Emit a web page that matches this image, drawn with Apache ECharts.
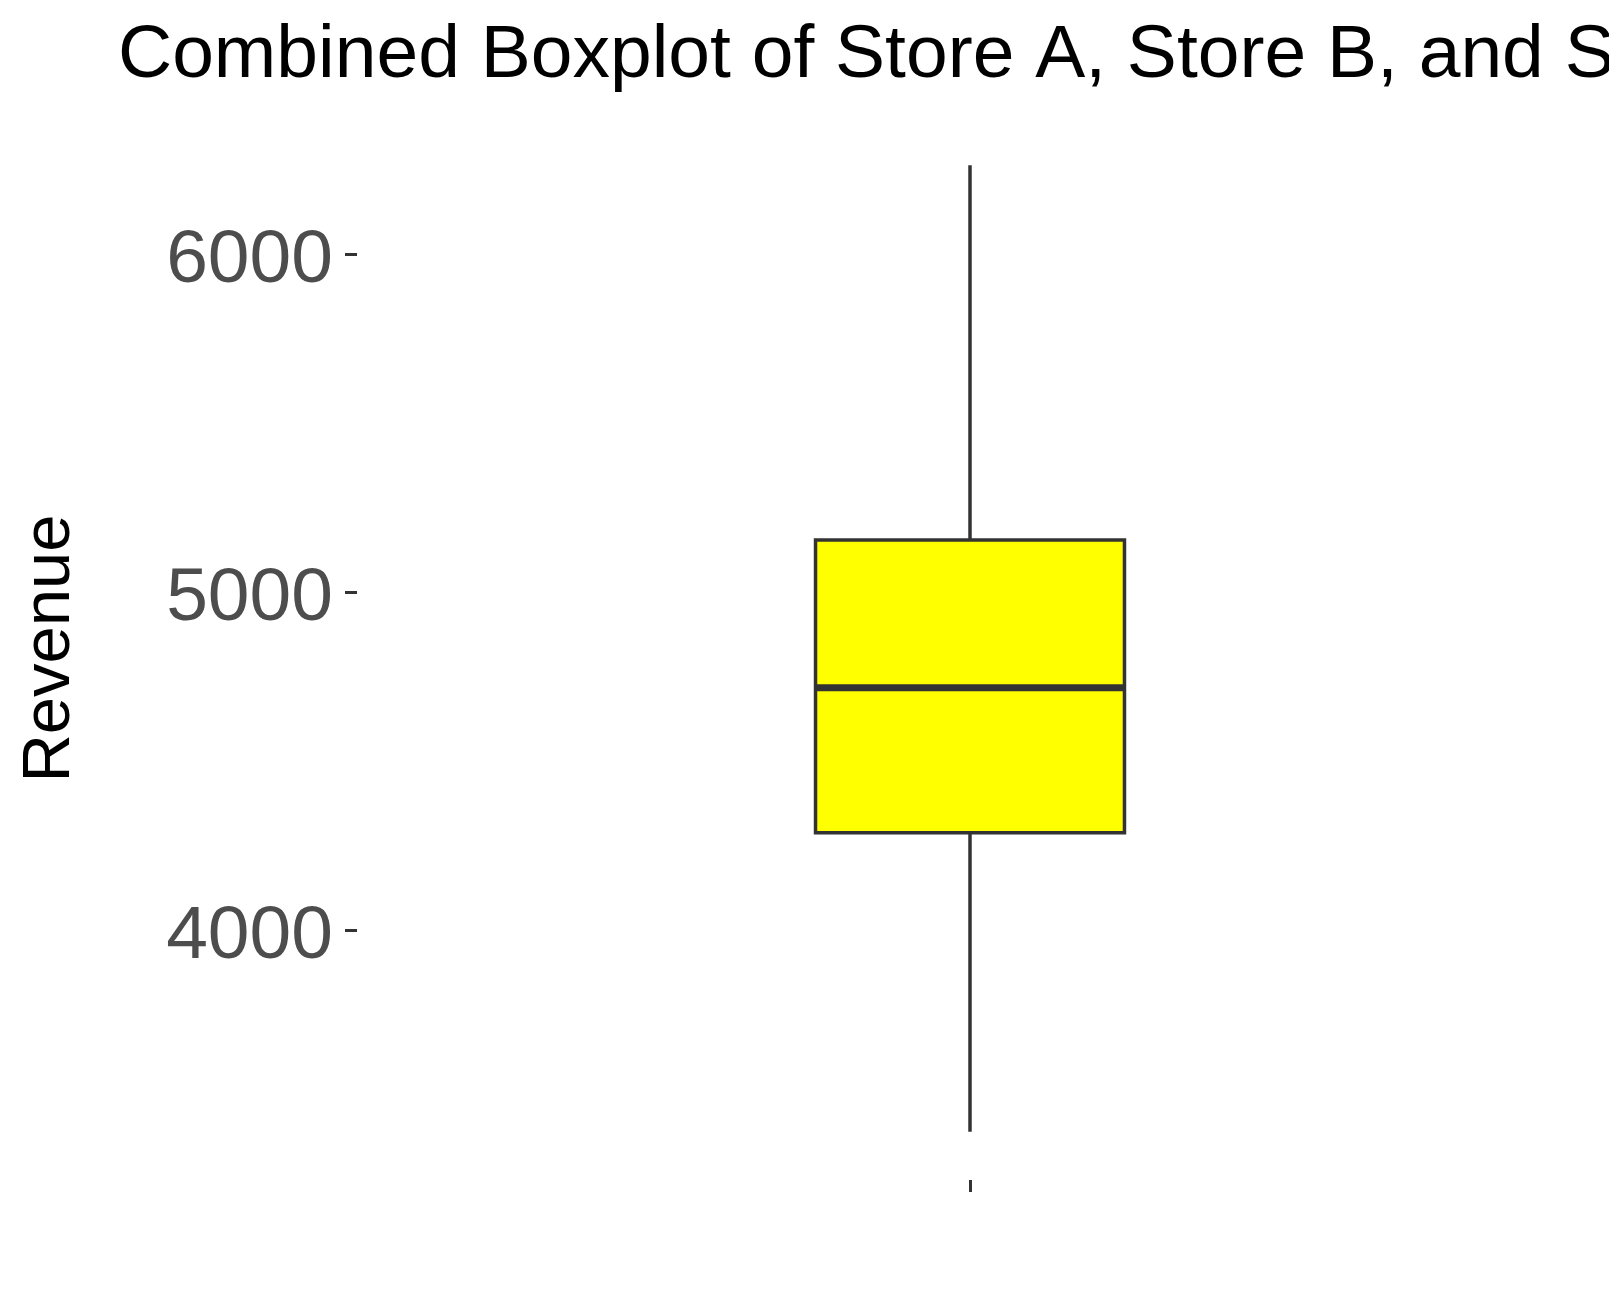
<!DOCTYPE html>
<html>
<head>
<meta charset="utf-8">
<style>html,body{margin:0;padding:0;background:#fff}#chart{width:1609px;height:1296px}</style>
<script src="https://cdn.jsdelivr.net/npm/echarts@6/dist/echarts.min.js"></script>
</head>
<body>
<div id="chart"></div>
<script>
// ---- data ----
const titleText = 'Combined Boxplot of Store A, Store B, and Store C';
const yAxisName = 'Revenue';
const categories = [''];
// [lower whisker, Q1, median, Q3, upper whisker]
const boxStats = [[3405, 4289, 4718, 5155, 6263]];
const yTicks = [4000, 5000, 6000];

// ---- axis range (ggplot-style 5% expansion) ----
const lo = Math.min(...boxStats.map(d => d[0]));
const hi = Math.max(...boxStats.map(d => d[4]));
const pad = (hi - lo) * 0.05;

const chart = echarts.init(document.getElementById('chart'), null, {renderer: 'canvas'});
const FONT = '"Liberation Sans", Arial, sans-serif';
const LINE = '#333333';

chart.setOption({
  animation: false,
  backgroundColor: '#ffffff',
  title: {
    text: titleText,
    left: 113,
    top: 14,
    textStyle: {fontFamily: FONT, fontSize: 75, fontWeight: 'normal', color: '#000000'}
  },
  grid: {left: 357, right: 26, top: 117, bottom: 116, containLabel: false},
  xAxis: {
    type: 'category',
    data: categories,
    boundaryGap: true,
    axisLine: {show: false},
    axisTick: {show: true, alignWithLabel: true, length: 12, lineStyle: {color: LINE, width: 3}},
    axisLabel: {show: false},
    splitLine: {show: false}
  },
  yAxis: {
    type: 'value',
    min: lo - pad,
    max: hi + pad,
    name: yAxisName,
    nameLocation: 'middle',
    nameRotate: 90,
    nameGap: 273,
    nameTextStyle: {fontFamily: FONT, fontSize: 67, color: '#000000'},
    axisLine: {show: false},
    axisTick: {show: true, customValues: yTicks, length: 12, lineStyle: {color: LINE, width: 3}},
    axisLabel: {show: true, customValues: yTicks, margin: 24, fontFamily: FONT, fontSize: 75, color: '#4D4D4D',
      verticalAlign: 'top', lineHeight: 14, formatter: v => String(v)},
    splitLine: {show: false}
  },
  series: [{
    type: 'custom',
    data: boxStats.map((d, i) => [i].concat(d)),
    encode: {x: 0, y: [1, 2, 3, 4, 5]},
    renderItem: function (params, api) {
      const idx = api.value(0);
      const pMin = api.coord([idx, api.value(1)]);
      const pQ1 = api.coord([idx, api.value(2)]);
      const pMed = api.coord([idx, api.value(3)]);
      const pQ3 = api.coord([idx, api.value(4)]);
      const pMax = api.coord([idx, api.value(5)]);
      const band = api.size([1, 0])[0];
      const half = band * 0.252 / 2;
      const cx = pMed[0];
      return {
        type: 'group',
        children: [
          {type: 'line', shape: {x1: cx, y1: pMax[1], x2: cx, y2: pQ3[1]}, style: {stroke: LINE, lineWidth: 3.5}},
          {type: 'line', shape: {x1: cx, y1: pQ1[1], x2: cx, y2: pMin[1]}, style: {stroke: LINE, lineWidth: 3.5}},
          {type: 'rect', shape: {x: cx - half, y: pQ3[1], width: half * 2, height: pQ1[1] - pQ3[1]},
            style: {fill: '#FFFF00', stroke: LINE, lineWidth: 3.5}},
          {type: 'line', shape: {x1: cx - half, y1: pMed[1], x2: cx + half, y2: pMed[1]}, style: {stroke: LINE, lineWidth: 7}}
        ]
      };
    }
  }]
});
</script>
</body>
</html>
